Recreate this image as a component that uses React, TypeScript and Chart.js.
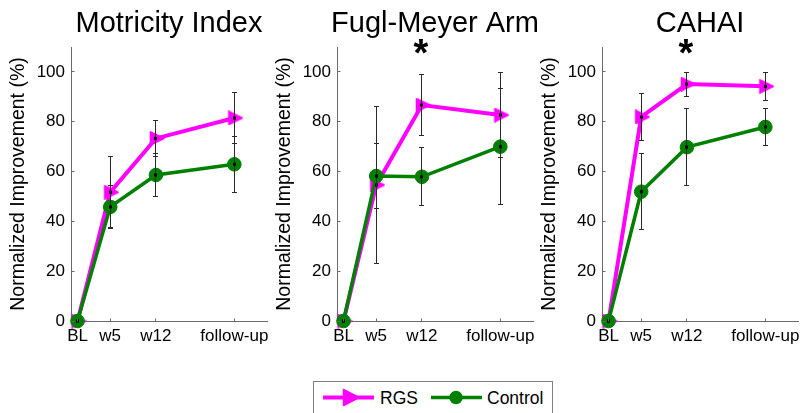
import React, { useEffect, useRef } from "react";
import { Chart, registerables } from "chart.js";

Chart.register(...registerables);

const FONT = "'Liberation Sans', Arial, Helvetica, sans-serif";
const RGS_COLOR = "#ff00ff";
const CONTROL_COLOR = "#008000";
const AXIS_COLOR = "#6a6a6a";
const ERROR_COLOR = "#2a2a2a";

// assessment time points, in weeks after baseline
const weeks = [0, 5, 12, 24];
const weekLabels = ["BL", "w5", "w12", "follow-up"];
const yTicks = [0, 20, 40, 60, 80, 100];
const xMin = -1;
const xMax = 29;
const yMin = 0;
const yMax = 110;

const titles = ["Motricity Index", "Fugl-Meyer Arm", "CAHAI"];

// weeks at which RGS and Control differ significantly
const motricityStars: number[] = [];
const fuglStars = [12];
const cahaiStars = [12];

// normalized improvement (%) and its spread, per time point
const motricityRGS = [0, 51.7, 73.3, 81.5];
const motricityRGSErr = [0, 14.2, 7.1, 10.3];
const motricityControl = [0, 45.8, 58.6, 62.9];
const motricityControlErr = [0, 8.5, 8.5, 11.2];

const fuglRGS = [0, 54.6, 86.7, 82.7];
const fuglRGSErr = [0, 31.6, 12.2, 17.1];
const fuglControl = [0, 58.2, 57.9, 70.0];
const fuglControlErr = [0, 13.0, 11.6, 23.4];

const cahaiRGS = [0, 81.9, 95.1, 94.2];
const cahaiRGSErr = [0, 9.5, 4.8, 5.6];
const cahaiControl = [0, 51.9, 69.8, 77.9];
const cahaiControlErr = [0, 15.3, 15.4, 7.3];

const panels = [
  { title: titles[0], stars: motricityStars, rgs: motricityRGS, rgsErr: motricityRGSErr, ctrl: motricityControl, ctrlErr: motricityControlErr },
  { title: titles[1], stars: fuglStars, rgs: fuglRGS, rgsErr: fuglRGSErr, ctrl: fuglControl, ctrlErr: fuglControlErr },
  { title: titles[2], stars: cahaiStars, rgs: cahaiRGS, rgsErr: cahaiRGSErr, ctrl: cahaiControl, ctrlErr: cahaiControlErr },
];

// layout of each subplot canvas
const PANEL_LEFTS = [0, 266, 531];
const Y_AXIS_WIDTH = 71;
const PLOT_WIDTH = 202;
const PAD_RIGHT = 6;
const CANVAS_W = Y_AXIS_WIDTH + PLOT_WIDTH + PAD_RIGHT;
const CANVAS_H = 360;
const PLOT_TOP = 47;
const X_AXIS_HEIGHT = 39;

function makeTriangle(color: string): HTMLCanvasElement {
  const c = document.createElement("canvas");
  c.width = 18;
  c.height = 15;
  const g = c.getContext("2d")!;
  g.fillStyle = color;
  g.strokeStyle = color;
  g.lineWidth = 1.5;
  g.lineJoin = "round";
  g.beginPath();
  g.moveTo(3.5, 0.8);
  g.lineTo(17, 7.5);
  g.lineTo(3.5, 14.2);
  g.closePath();
  g.fill();
  g.stroke();
  return c;
}

const align = (v: number) => Math.round(v - 0.5) + 0.5;

const errorBarPlugin = {
  id: "errorBars",
  afterDatasetsDraw(chart: any) {
    const { ctx, scales } = chart;
    const xs = scales.x;
    const ys = scales.y;
    ctx.save();
    chart.data.datasets.forEach((ds: any) => {
      const errs: number[] = ds.errors;
      ds.data.forEach((p: { x: number; y: number }, i: number) => {
        const x = align(xs.getPixelForValue(p.x));
        const yc = ys.getPixelForValue(p.y);
        const e = errs[i];
        if (e > 0) {
          const y1 = align(ys.getPixelForValue(p.y + e));
          const y2 = align(ys.getPixelForValue(p.y - e));
          ctx.strokeStyle = ERROR_COLOR;
          ctx.lineWidth = 1;
          ctx.beginPath();
          ctx.moveTo(x, y1);
          ctx.lineTo(x, y2);
          ctx.moveTo(x - 2.5, y1);
          ctx.lineTo(x + 2.5, y1);
          ctx.moveTo(x - 2.5, y2);
          ctx.lineTo(x + 2.5, y2);
          ctx.stroke();
        }
        ctx.fillStyle = "#000";
        ctx.fillRect(x - 1.5, yc - 1.5, 3, 3);
      });
    });
    ctx.restore();
  },
};

const decorPlugin = {
  id: "panelDecor",
  afterDraw(chart: any, _args: any, opts: any) {
    const { ctx, chartArea, scales } = chart;
    ctx.save();
    // inward tick marks
    ctx.strokeStyle = AXIS_COLOR;
    ctx.lineWidth = 1;
    ctx.beginPath();
    const ax = align(chartArea.left);
    yTicks.forEach((v) => {
      const y = align(scales.y.getPixelForValue(v));
      ctx.moveTo(ax, y);
      ctx.lineTo(ax + 3, y);
    });
    const ay = align(chartArea.bottom);
    weeks.forEach((w) => {
      const x = align(scales.x.getPixelForValue(w));
      ctx.moveTo(x, ay);
      ctx.lineTo(x, ay - 3);
    });
    ctx.stroke();

    // subplot title
    ctx.fillStyle = "#000";
    ctx.font = `29px ${FONT}`;
    ctx.textAlign = "center";
    ctx.textBaseline = "alphabetic";
    ctx.fillText(opts.title, (chartArea.left + chartArea.right) / 2, 31.7);

    // significance markers
    ctx.font = `bold 38px ${FONT}`;
    ctx.textAlign = "left";
    (opts.stars || []).forEach((w: number) => {
      const m = ctx.measureText("*");
      const cx = scales.x.getPixelForValue(w) - 1;
      const cy = 46.5;
      const x0 = cx - (m.actualBoundingBoxRight - m.actualBoundingBoxLeft) / 2;
      const y0 = cy + (m.actualBoundingBoxAscent - m.actualBoundingBoxDescent) / 2;
      ctx.fillText("*", x0, y0);
    });
    ctx.restore();
  },
};

function Panel({ index }: { index: number }) {
  const ref = useRef<HTMLCanvasElement | null>(null);

  useEffect(() => {
    const p = panels[index];
    const tri = makeTriangle(RGS_COLOR);
    const toPoints = (vals: number[]) => vals.map((v, i) => ({ x: weeks[i], y: v }));
    const chart = new Chart(ref.current!, {
      type: "line",
      data: {
        datasets: [
          {
            label: "RGS",
            data: toPoints(p.rgs),
            errors: p.rgsErr,
            borderColor: RGS_COLOR,
            backgroundColor: RGS_COLOR,
            borderWidth: 4,
            pointStyle: tri,
            pointRadius: 8,
            tension: 0,
            clip: false,
            order: 2,
          } as any,
          {
            label: "Control",
            data: toPoints(p.ctrl),
            errors: p.ctrlErr,
            borderColor: CONTROL_COLOR,
            backgroundColor: CONTROL_COLOR,
            borderWidth: 3.5,
            pointStyle: "circle",
            pointRadius: 6.8,
            pointBorderWidth: 1,
            tension: 0,
            clip: false,
            order: 1,
          } as any,
        ],
      },
      options: {
        responsive: false,
        animation: false,
        events: [],
        layout: { padding: { top: PLOT_TOP, right: PAD_RIGHT, left: 0, bottom: 0 } },
        plugins: {
          legend: { display: false },
          tooltip: { enabled: false },
          panelDecor: { title: p.title, stars: p.stars },
        } as any,
        scales: {
          x: {
            type: "linear",
            min: xMin,
            max: xMax,
            grid: { display: false, drawTicks: false },
            border: { display: true, color: AXIS_COLOR, width: 1 },
            ticks: {
              autoSkip: false,
              maxRotation: 0,
              padding: 5.5,
              color: "#000",
              font: { family: FONT, size: 17 },
              callback: (v: any) => {
                const i = weeks.indexOf(Number(v));
                return i >= 0 ? weekLabels[i] : "";
              },
            },
            afterBuildTicks: (axis: any) => {
              axis.ticks = weeks.map((w) => ({ value: w }));
            },
            afterFit: (axis: any) => {
              axis.height = X_AXIS_HEIGHT;
            },
          },
          y: {
            type: "linear",
            min: yMin,
            max: yMax,
            grid: { display: false, drawTicks: false },
            border: { display: true, color: AXIS_COLOR, width: 1 },
            ticks: {
              padding: 6,
              color: "#000",
              font: { family: FONT, size: 17 },
            },
            afterBuildTicks: (axis: any) => {
              axis.ticks = yTicks.map((v) => ({ value: v }));
            },
            afterFit: (axis: any) => {
              axis.width = Y_AXIS_WIDTH;
            },
            title: {
              display: true,
              text: "Normalized Improvement (%)",
              color: "#000",
              font: { family: FONT, size: 19.5 },
              padding: { top: 6.5, bottom: 0 },
            },
          },
        },
      } as any,
      plugins: [errorBarPlugin, decorPlugin],
    });
    return () => chart.destroy();
  }, [index]);

  return (
    <canvas
      ref={ref}
      width={CANVAS_W}
      height={CANVAS_H}
      style={{ position: "absolute", left: PANEL_LEFTS[index], top: 0, width: CANVAS_W, height: CANVAS_H }}
    />
  );
}

function Legend() {
  return (
    <svg width={807} height={413} style={{ position: "absolute", left: 0, top: 0 }}>
      <rect x={313.5} y={381.5} width={239} height={45} fill="#fff" stroke="#7f7f7f" strokeWidth={1} />
      <line x1={323} y1={397.5} x2={374} y2={397.5} stroke={RGS_COLOR} strokeWidth={4} />
      <polygon
        points="343.5,389.5 359,397.5 343.5,405.5"
        fill={RGS_COLOR}
        stroke={RGS_COLOR}
        strokeWidth={1.5}
        strokeLinejoin="round"
      />
      <text x={380} y={404} fontFamily={FONT} fontSize={17.5} fill="#000">
        RGS
      </text>
      <line x1={431} y1={397.5} x2={482} y2={397.5} stroke={CONTROL_COLOR} strokeWidth={3.5} />
      <circle cx={456} cy={397.5} r={6.7} fill={CONTROL_COLOR} />
      <text x={487} y={404} fontFamily={FONT} fontSize={17.5} fill="#000">
        Control
      </text>
    </svg>
  );
}

export default function App() {
  return (
    <div
      style={{
        position: "absolute",
        left: 0,
        top: 0,
        width: 807,
        height: 413,
        overflow: "hidden",
        background: "#fff",
      }}
    >
      <Legend />
      {panels.map((_, i) => (
        <Panel key={i} index={i} />
      ))}
    </div>
  );
}
